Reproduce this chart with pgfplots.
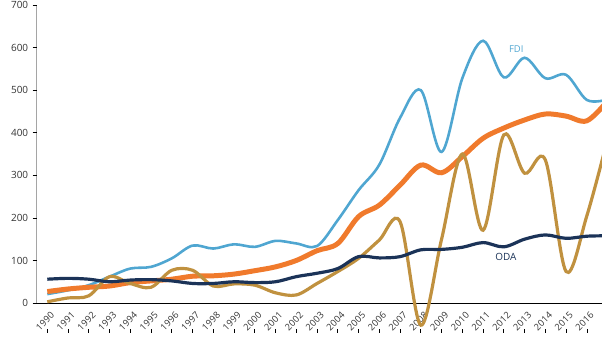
\documentclass[border=0pt]{standalone}
\usepackage{fontspec}
\setmainfont{Open Sans}
\usepackage{pgfplots}
\pgfplotsset{compat=1.18}
\definecolor{fdi}{HTML}{4FA6D1}
\definecolor{rem}{HTML}{F07A2C}
\definecolor{gold}{HTML}{C0913F}
\definecolor{oda}{HTML}{1B3358}
\definecolor{txt}{HTML}{333333}
\begin{document}
\begin{tikzpicture}
\begin{axis}[
  scale only axis,
  width=565.3bp, height=323.6bp,
  xmin=1989.49, xmax=2016.73,
  ymin=-60, ymax=700,
  axis x line=middle,
  axis y line=left,
  y axis line style={draw=none},
  x axis line style={-, black, line width=0.8pt},
  ytick={0,100,...,700},
  xtick={1990,...,2016},
  x tick label style={/pgf/number format/1000 sep={}, xshift=6bp, yshift=-6bp, rotate=45, anchor=east, font=\fontsize{9.3}{10}\selectfont, text=txt, inner sep=1bp},
  y tick label style={font=\fontsize{10}{11}\selectfont, text=txt, xshift=-1bp},
  /pgf/number format/assume math mode=true,
  tick style={black, line width=0.6pt},
  major tick length=4bp,
  tick align=outside,
  xtick pos=bottom, ytick pos=left,
  clip=true,
  enlargelimits=false,
  every axis plot/.append style={smooth, tension=0.55},
]
\coordinate (zero) at (axis cs:1989.49,0);
\coordinate (topright) at (axis cs:2016.73,700);
\draw[black, line width=0.8pt] (axis cs:1989.49,0) -- (axis cs:1989.49,700);
% FDI
\addplot[fdi, line width=2.6pt] coordinates {
(1990,21)(1991,30)(1992,42)(1993,62)(1994,81)(1995,85)(1996,105)(1997,135)
(1998,128)(1999,138)(2000,132)(2001,146)(2002,140)(2003,134)(2004,195)(2005,265)
(2006,325)(2007,435)(2008,500)(2009,355)(2010,528)(2011,616)(2012,530)(2013,576)
(2014,528)(2015,536)(2016,477)(2017,478)};
% orange
\addplot[rem, line width=5pt] coordinates {
(1990,27)(1991,33)(1992,37)(1993,40)(1994,48)(1995,52)(1996,56)(1997,63)
(1998,64)(1999,68)(2000,76)(2001,85)(2002,100)(2003,123)(2004,140)(2005,203)
(2006,230)(2007,277)(2008,324)(2009,306)(2010,344)(2011,387)(2012,411)(2013,430)
(2014,444)(2015,439)(2016,428)(2017,475)};
% gold
\addplot[gold, line width=3.2pt] coordinates {
(1990,3)(1991,12)(1992,17)(1993,62)(1994,46)(1995,37)(1996,77)(1997,77)
(1998,40)(1999,45)(2000,42)(2001,24)(2002,19)(2003,46)(2004,74)(2005,105)
(2006,148)(2007,191)(2008,-52)(2009,150)(2010,350)(2011,171)(2012,395)(2013,305)
(2014,336)(2015,74)(2016,205)(2017,385)};
% ODA
\addplot[oda, line width=3.2pt] coordinates {
(1990,56)(1991,58)(1992,56)(1993,50)(1994,54)(1995,55)(1996,52)(1997,46)
(1998,46)(1999,50)(2000,48)(2001,50)(2002,62)(2003,70)(2004,81)(2005,109)
(2006,106)(2007,109)(2008,125)(2009,126)(2010,131)(2011,142)(2012,132)(2013,150)
(2014,160)(2015,152)(2016,157)(2017,158)};
\node[fdi, font=\fontsize{9.5}{10}\selectfont] at (axis cs:2012.6,597) {FDI};
\node[oda, font=\fontsize{10}{11}\selectfont] at (axis cs:2012.1,109) {ODA};
\end{axis}
\pgfresetboundingbox
\path ([xshift=-36.7bp,yshift=-36bp]zero) rectangle ([yshift=5bp]topright);
\end{tikzpicture}
\end{document}
